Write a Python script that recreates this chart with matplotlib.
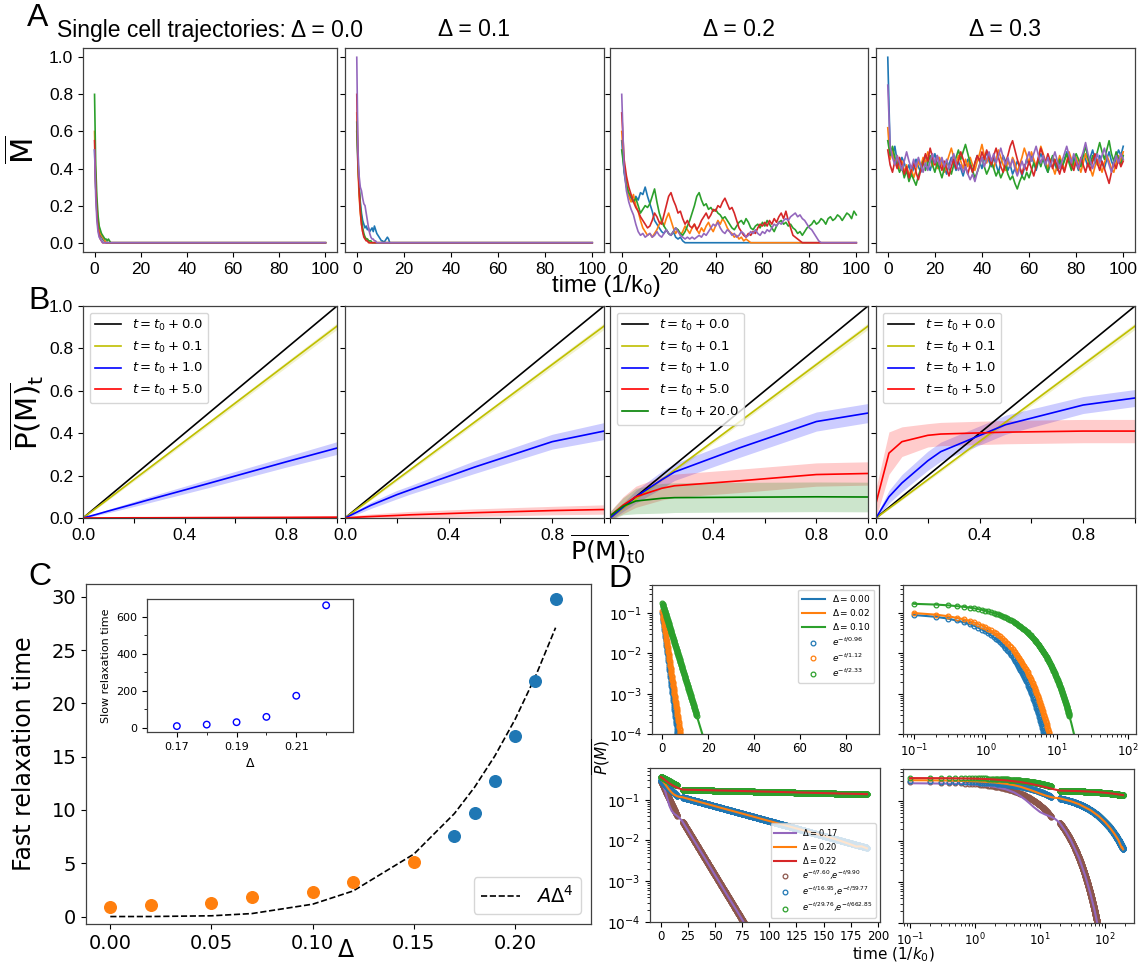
import numpy as np
import matplotlib.pyplot as plt
from matplotlib.ticker import FormatStrFormatter, NullFormatter

W, H = 1142, 964
ARIAL = ['Liberation Sans', 'DejaVu Sans']
DEJAVU = 'DejaVu Sans'

plt.rcParams['font.family'] = ARIAL
plt.rcParams['mathtext.fontset'] = 'dejavusans'
plt.rcParams['axes.edgecolor'] = '0.25'
plt.rcParams['axes.linewidth'] = 0.9

# ---------------- panel A: single cell trajectories ----------------
a_titles = ['Single cell trajectories: \u0394 = 0.0', '\u0394 = 0.1', '\u0394 = 0.2', '\u0394 = 0.3']
a_dt = [0.5, 0.5, 1.0, 1.0]
traj_colors = ['C0', 'C1', 'C2', 'C3', 'C4']

a1_traj = [
    [0.50, 0.30, 0.17, 0.10, 0.06, 0.04, 0.03, 0.02, 0.01, 0.01, 0.0],
    [0.60, 0.33, 0.20, 0.12, 0.08, 0.05, 0.04, 0.03, 0.02, 0.01, 0.0],
    [0.80, 0.42, 0.25, 0.15, 0.09, 0.07, 0.05, 0.04, 0.03, 0.02, 0.02, 0.01, 0.02, 0.01, 0.0],
    [0.55, 0.30, 0.16, 0.08, 0.04, 0.02, 0.01, 0.0],
    [0.50, 0.25, 0.12, 0.06, 0.03, 0.02, 0.01, 0.0],
]
a2_traj = [
    [0.60, 0.42, 0.30, 0.22, 0.16, 0.12, 0.10, 0.08, 0.09, 0.07, 0.08, 0.06, 0.07, 0.08, 0.06,
     0.09, 0.07, 0.05, 0.04, 0.03, 0.02, 0.01, 0.01, 0.0, 0.01, 0.02, 0.03, 0.02, 0.0],
    [0.70, 0.40, 0.25, 0.16, 0.10, 0.06, 0.04, 0.03, 0.02, 0.02, 0.01, 0.0],
    [0.65, 0.45, 0.30, 0.20, 0.13, 0.08, 0.05, 0.03, 0.02, 0.02, 0.01, 0.01, 0.01, 0.0],
    [0.80, 0.45, 0.28, 0.17, 0.10, 0.06, 0.03, 0.02, 0.01, 0.01, 0.0],
    [1.00, 0.50, 0.36, 0.30, 0.28, 0.24, 0.21, 0.20, 0.16, 0.12, 0.08, 0.05, 0.03, 0.02, 0.02,
     0.01, 0.01, 0.0],
]
a3_traj = [
    [0.55, 0.38, 0.30, 0.26, 0.24, 0.22, 0.25, 0.23, 0.27, 0.26, 0.30, 0.25, 0.21, 0.17, 0.12,
     0.10, 0.08, 0.06, 0.05, 0.07, 0.05, 0.04, 0.06, 0.03, 0.02, 0.03, 0.01, 0.0],
    [0.60, 0.42, 0.33, 0.25, 0.22, 0.26, 0.20, 0.17, 0.12, 0.08, 0.06, 0.04, 0.05, 0.03, 0.05,
     0.07, 0.10, 0.12, 0.09, 0.13, 0.16, 0.12, 0.08, 0.05, 0.07, 0.04, 0.06, 0.09, 0.07, 0.05,
     0.08, 0.10, 0.07, 0.05, 0.08, 0.06, 0.09, 0.11, 0.08, 0.06, 0.09, 0.12, 0.10, 0.13, 0.11,
     0.08, 0.06, 0.05, 0.03, 0.04, 0.02, 0.03, 0.01, 0.02, 0.01, 0.0],
    [0.50, 0.40, 0.31, 0.27, 0.25, 0.22, 0.24, 0.20, 0.16, 0.18, 0.20, 0.19, 0.21, 0.25, 0.29,
     0.22, 0.16, 0.12, 0.09, 0.07, 0.05, 0.04, 0.06, 0.08, 0.07, 0.05, 0.04, 0.06, 0.09, 0.12,
     0.16, 0.20, 0.25, 0.27, 0.23, 0.20, 0.21, 0.18, 0.19, 0.17, 0.18, 0.16, 0.15, 0.13, 0.14,
     0.12, 0.10, 0.08, 0.07, 0.09, 0.11, 0.12, 0.10, 0.13, 0.11, 0.08, 0.07, 0.09, 0.10, 0.08,
     0.11, 0.09, 0.12, 0.10, 0.08, 0.06, 0.09, 0.11, 0.12, 0.10, 0.11, 0.09, 0.10, 0.08, 0.07,
     0.05, 0.06, 0.04, 0.06, 0.08, 0.09, 0.10, 0.12, 0.10, 0.11, 0.13, 0.12, 0.10, 0.13, 0.14,
     0.12, 0.13, 0.15, 0.14, 0.12, 0.14, 0.16, 0.15, 0.13, 0.17, 0.15],
    [0.70, 0.45, 0.36, 0.30, 0.26, 0.22, 0.19, 0.17, 0.14, 0.12, 0.10, 0.08, 0.09, 0.12, 0.16,
     0.14, 0.11, 0.10, 0.15, 0.20, 0.25, 0.27, 0.23, 0.20, 0.16, 0.17, 0.13, 0.10, 0.12, 0.09,
     0.08, 0.10, 0.07, 0.09, 0.12, 0.14, 0.16, 0.13, 0.15, 0.18, 0.17, 0.20, 0.19, 0.22, 0.24,
     0.21, 0.18, 0.19, 0.16, 0.12, 0.08, 0.06, 0.04, 0.03, 0.05, 0.04, 0.06, 0.05, 0.08, 0.10,
     0.09, 0.11, 0.09, 0.12, 0.10, 0.13, 0.11, 0.14, 0.16, 0.13, 0.17, 0.12, 0.08, 0.04, 0.03,
     0.02, 0.01, 0.0],
    [0.80, 0.40, 0.28, 0.22, 0.18, 0.15, 0.10, 0.06, 0.04, 0.05, 0.03, 0.04, 0.05, 0.03, 0.04,
     0.06, 0.04, 0.03, 0.05, 0.07, 0.05, 0.04, 0.06, 0.08, 0.06, 0.04, 0.03, 0.02, 0.03, 0.02,
     0.03, 0.02, 0.03, 0.04, 0.03, 0.05, 0.04, 0.06, 0.08, 0.10, 0.09, 0.11, 0.08, 0.06, 0.05,
     0.07, 0.06, 0.04, 0.05, 0.03, 0.04, 0.06, 0.05, 0.03, 0.04, 0.06, 0.05, 0.07, 0.05, 0.04,
     0.06, 0.05, 0.07, 0.06, 0.08, 0.10, 0.09, 0.11, 0.10, 0.12, 0.13, 0.12, 0.14, 0.15, 0.16,
     0.14, 0.15, 0.13, 0.12, 0.10, 0.08, 0.07, 0.05, 0.03, 0.01, 0.0],
]
a4_traj = [
    [1.00, 0.50, 0.47, 0.52, 0.44, 0.41, 0.46, 0.43, 0.39, 0.42,
     0.37, 0.40, 0.45, 0.41, 0.38, 0.43, 0.47, 0.42, 0.39, 0.44,
     0.48, 0.43, 0.40, 0.45, 0.41, 0.37, 0.42, 0.46, 0.43, 0.39,
     0.44, 0.40, 0.36, 0.41, 0.45, 0.42, 0.38, 0.43, 0.47, 0.44,
     0.40, 0.45, 0.49, 0.44, 0.41, 0.46, 0.42, 0.38, 0.43, 0.47,
     0.44, 0.39, 0.42, 0.37, 0.40, 0.44, 0.41, 0.36, 0.40, 0.45,
     0.42, 0.47, 0.43, 0.39, 0.44, 0.48, 0.45, 0.41, 0.38, 0.43,
     0.46, 0.42, 0.39, 0.44, 0.40, 0.45, 0.49, 0.44, 0.41, 0.46,
     0.43, 0.39, 0.44, 0.48, 0.45, 0.41, 0.46, 0.50, 0.45, 0.42,
     0.47, 0.43, 0.40, 0.45, 0.49, 0.44, 0.41, 0.46, 0.50, 0.47, 0.52],
    [0.62, 0.45, 0.50, 0.43, 0.47, 0.40, 0.44, 0.38, 0.42, 0.36,
     0.40, 0.35, 0.39, 0.44, 0.41, 0.46, 0.43, 0.49, 0.45, 0.41,
     0.44, 0.40, 0.46, 0.42, 0.38, 0.43, 0.47, 0.51, 0.46, 0.43,
     0.47, 0.44, 0.40, 0.45, 0.41, 0.46, 0.42, 0.39, 0.44, 0.48,
     0.53, 0.47, 0.43, 0.48, 0.44, 0.40, 0.45, 0.50, 0.46, 0.42,
     0.39, 0.44, 0.41, 0.46, 0.43, 0.38, 0.42, 0.46, 0.51, 0.47,
     0.43, 0.49, 0.45, 0.41, 0.46, 0.52, 0.48, 0.44, 0.40, 0.45,
     0.41, 0.37, 0.42, 0.47, 0.43, 0.39, 0.44, 0.49, 0.45, 0.41,
     0.46, 0.42, 0.38, 0.43, 0.48, 0.44, 0.40, 0.36, 0.41, 0.45,
     0.42, 0.38, 0.43, 0.47, 0.44, 0.40, 0.38, 0.43, 0.47, 0.44, 0.49],
    [0.55, 0.47, 0.52, 0.46, 0.42, 0.38, 0.41, 0.35, 0.39, 0.33,
     0.37, 0.34, 0.31, 0.36, 0.40, 0.44, 0.39, 0.43, 0.47, 0.42,
     0.38, 0.43, 0.39, 0.35, 0.40, 0.44, 0.41, 0.37, 0.42, 0.46,
     0.50, 0.45, 0.49, 0.53, 0.48, 0.43, 0.39, 0.35, 0.38, 0.42,
     0.46, 0.41, 0.37, 0.40, 0.44, 0.40, 0.36, 0.39, 0.35, 0.38,
     0.42, 0.37, 0.34, 0.36, 0.32, 0.29, 0.33, 0.36, 0.34, 0.38,
     0.35, 0.39, 0.43, 0.40, 0.45, 0.41, 0.46, 0.42, 0.38, 0.43,
     0.47, 0.43, 0.40, 0.45, 0.41, 0.44, 0.48, 0.43, 0.39, 0.44,
     0.48, 0.45, 0.41, 0.47, 0.52, 0.46, 0.42, 0.47, 0.43, 0.49,
     0.54, 0.49, 0.45, 0.50, 0.55, 0.48, 0.44, 0.49, 0.45, 0.42, 0.47],
    [0.50, 0.42, 0.38, 0.44, 0.40, 0.46, 0.42, 0.37, 0.41, 0.35,
     0.39, 0.43, 0.38, 0.34, 0.39, 0.43, 0.48, 0.44, 0.51, 0.46,
     0.42, 0.47, 0.43, 0.39, 0.44, 0.40, 0.36, 0.41, 0.45, 0.40,
     0.44, 0.49, 0.45, 0.41, 0.37, 0.42, 0.38, 0.43, 0.47, 0.44,
     0.49, 0.45, 0.50, 0.46, 0.42, 0.47, 0.51, 0.46, 0.41, 0.38,
     0.43, 0.47, 0.52, 0.55, 0.50, 0.45, 0.41, 0.37, 0.42, 0.39,
     0.44, 0.40, 0.36, 0.41, 0.46, 0.51, 0.47, 0.43, 0.48, 0.44,
     0.40, 0.45, 0.41, 0.37, 0.42, 0.38, 0.43, 0.47, 0.42, 0.39,
     0.44, 0.40, 0.46, 0.42, 0.38, 0.43, 0.39, 0.44, 0.48, 0.43,
     0.39, 0.44, 0.40, 0.36, 0.32, 0.38, 0.43, 0.40, 0.45, 0.41, 0.44],
    [0.85, 0.52, 0.46, 0.42, 0.47, 0.43, 0.39, 0.44, 0.49, 0.44,
     0.40, 0.45, 0.41, 0.46, 0.42, 0.38, 0.43, 0.39, 0.44, 0.48,
     0.43, 0.47, 0.42, 0.46, 0.41, 0.45, 0.40, 0.44, 0.48, 0.43,
     0.39, 0.42, 0.38, 0.41, 0.37, 0.34, 0.37, 0.33, 0.38, 0.42,
     0.46, 0.41, 0.45, 0.49, 0.44, 0.48, 0.43, 0.47, 0.51, 0.46,
     0.42, 0.46, 0.41, 0.45, 0.40, 0.36, 0.40, 0.44, 0.40, 0.45,
     0.49, 0.44, 0.48, 0.52, 0.47, 0.43, 0.47, 0.42, 0.46, 0.41,
     0.45, 0.49, 0.44, 0.40, 0.44, 0.48, 0.52, 0.47, 0.43, 0.48,
     0.44, 0.40, 0.45, 0.49, 0.54, 0.48, 0.44, 0.40, 0.44, 0.48,
     0.43, 0.47, 0.51, 0.46, 0.42, 0.38, 0.43, 0.47, 0.43, 0.48, 0.45],
]
a_traj = [a1_traj, a2_traj, a3_traj, a4_traj]

# ---------------- panel B: P(M)_t versus P(M)_t0 ----------------
b_x = [0, 0.05, 0.1, 0.2, 0.25, 0.5, 0.8, 1.0]
b_black = [0, 0.05, 0.1, 0.2, 0.25, 0.5, 0.8, 1.0]
b_yellow = [0, 0.045, 0.09, 0.181, 0.226, 0.452, 0.724, 0.905]
b_yellow_err = [0.002, 0.004, 0.005, 0.007, 0.008, 0.010, 0.013, 0.015]
b_labels = ['$t = t_0 + 0.0$', '$t = t_0 + 0.1$', '$t = t_0 + 1.0$',
            '$t = t_0 + 5.0$', '$t = t_0 + 20.0$']

b_blue = [
    [0, 0.016, 0.033, 0.066, 0.083, 0.165, 0.265, 0.33],
    [0, 0.03, 0.06, 0.11, 0.132, 0.24, 0.36, 0.41],
    [0, 0.05, 0.10, 0.18, 0.217, 0.33, 0.455, 0.495],
    [0, 0.10, 0.165, 0.27, 0.313, 0.44, 0.533, 0.566],
]
b_blue_err = [
    [0.003, 0.005, 0.008, 0.012, 0.014, 0.020, 0.025, 0.030],
    [0.005, 0.010, 0.015, 0.020, 0.020, 0.030, 0.035, 0.040],
    [0.010, 0.020, 0.030, 0.040, 0.040, 0.045, 0.045, 0.045],
    [0.010, 0.030, 0.040, 0.045, 0.045, 0.045, 0.040, 0.040],
]
b_red = [
    [0, 0.0003, 0.0005, 0.001, 0.001, 0.002, 0.003, 0.004],
    [0, 0.004, 0.007, 0.012, 0.015, 0.025, 0.035, 0.040],
    [0.01, 0.06, 0.10, 0.14, 0.152, 0.175, 0.205, 0.21],
    [0.07, 0.306, 0.36, 0.39, 0.396, 0.405, 0.41, 0.41],
]
b_red_err = [
    [0.001, 0.001, 0.002, 0.002, 0.002, 0.003, 0.004, 0.004],
    [0.005, 0.010, 0.012, 0.015, 0.016, 0.018, 0.020, 0.022],
    [0.020, 0.040, 0.050, 0.055, 0.055, 0.055, 0.055, 0.055],
    [0.070, 0.100, 0.070, 0.055, 0.055, 0.055, 0.055, 0.055],
]
b_green = [0.01, 0.055, 0.08, 0.093, 0.096, 0.098, 0.10, 0.099]
b_green_err = [0.02, 0.04, 0.06, 0.07, 0.07, 0.07, 0.07, 0.07]

# ---------------- panel C: relaxation times ----------------
c_delta_fast = [0.00, 0.02, 0.05, 0.07, 0.10, 0.12, 0.15]
c_time_fast = [0.94, 1.12, 1.28, 1.84, 2.33, 3.28, 5.09]
c_delta_two = [0.17, 0.18, 0.19, 0.20, 0.21, 0.22]
c_time_two = [7.60, 9.72, 12.75, 16.95, 22.06, 29.76]
c_fit_delta = [0.00, 0.02, 0.05, 0.07, 0.10, 0.12, 0.15, 0.17, 0.18, 0.19, 0.20, 0.21, 0.22]
c_fit_time = [0.0, 0.002, 0.07, 0.28, 1.16, 2.40, 5.86, 9.66, 12.14, 15.07, 18.5, 22.5, 27.1]
c_slow_time = [9.90, 18.0, 31.0, 59.77, 174.0, 662.85]

# ---------------- panel D: P(M) decay ----------------
d_top_labels = ['$\\Delta = 0.00$', '$\\Delta = 0.02$', '$\\Delta = 0.10$']
d_top_colors = ['C0', 'C1', 'C2']
d_top_t = [0, 0.1, 0.2, 0.3, 0.5, 0.7, 1, 1.5, 2, 3, 4, 5, 6, 7, 8, 9, 10, 12, 14, 16, 18]
d_top_vals = [
    [0.100, 0.0901, 0.0812, 0.0732, 0.0594, 0.0482, 0.0353, 0.0210, 0.0125, 0.0044,
     0.00155, 5.5e-4, 1.9e-4, 6.8e-5, 2.4e-5, 8.5e-6, 3.0e-6, 3.7e-7, 4.6e-8, 5.7e-9, 7.0e-10],
    [0.110, 0.1006, 0.0919, 0.0840, 0.0704, 0.0588, 0.0450, 0.0288, 0.0184, 0.00755,
     0.00309, 0.00127, 5.2e-4, 2.1e-4, 8.7e-5, 3.6e-5, 1.5e-5, 2.4e-6, 4.0e-7, 7.0e-8, 1.0e-8],
    [0.178, 0.1705, 0.1634, 0.1565, 0.1436, 0.1318, 0.1160, 0.0932, 0.0755, 0.0491,
     0.0320, 0.0208, 0.0136, 0.0088, 0.0057, 0.0037, 0.0024, 0.00103, 4.4e-4, 1.86e-4, 7.9e-5],
]
d_top_amp = [0.100, 0.110, 0.178]
d_top_tau = [0.96, 1.12, 2.33]

d_bot_labels = ['$\\Delta = 0.17$', '$\\Delta = 0.20$', '$\\Delta = 0.22$']
d_bot_line_colors = ['C4', 'C1', 'C3']
d_bot_fit_colors = ['C5', 'C0', 'C2']
d_bot_t = [
    [0, 0.1, 0.2, 0.3, 0.5, 0.7, 1, 1.5, 2, 3, 4, 5, 6, 7, 8, 10, 12, 14, 15, 17,
     20, 25, 30, 40, 50, 60, 70, 80, 90],
    [0, 0.1, 0.2, 0.3, 0.5, 0.7, 1, 1.5, 2, 3, 4, 5, 7, 10, 12, 15, 17, 20, 30, 40,
     60, 80, 100, 120, 140, 160, 175, 180, 185, 190],
    [0, 0.1, 0.2, 0.3, 0.5, 0.7, 1, 1.5, 2, 3, 4, 5, 7, 10, 12, 15, 17, 20, 40, 60,
     80, 100, 130, 160, 190],
]
d_bot_vals = [
    [0.270, 0.268, 0.266, 0.264, 0.260, 0.256, 0.248, 0.235, 0.220, 0.190, 0.160, 0.130,
     0.105, 0.085, 0.070, 0.053, 0.046, 0.042, 0.040, 0.036, 0.0290, 0.0175, 0.0106,
     0.0039, 0.0014, 5.1e-4, 1.9e-4, 6.8e-5, 2.5e-5],
    [0.320, 0.318, 0.316, 0.314, 0.310, 0.306, 0.300, 0.290, 0.280, 0.260, 0.240, 0.220,
     0.185, 0.150, 0.135, 0.122, 0.118, 0.115, 0.097, 0.082, 0.0586, 0.0420, 0.0300,
     0.0215, 0.0154, 0.0110, 0.0080, 0.0071, 0.0072, 0.0064],
    [0.360, 0.359, 0.358, 0.357, 0.355, 0.352, 0.348, 0.340, 0.332, 0.316, 0.300, 0.287,
     0.262, 0.232, 0.216, 0.198, 0.188, 0.177, 0.172, 0.167, 0.162, 0.157, 0.150, 0.143,
     0.137],
]
d_fast_amp = [0.29, 0.30, 0.37]
d_fast_tau = [7.60, 16.95, 29.76]
d_slow_amp = [0.219, 0.160, 0.181]
d_slow_tau = [9.90, 59.77, 662.85]
d_fit_labels = ['$e^{-t/7.60}$,$e^{-t/9.90}$', '$e^{-t/16.95}$,$e^{-t/59.77}$',
                '$e^{-t/29.76}$,$e^{-t/662.85}$']


def px_axes(fig, left, top, right, bottom):
    return fig.add_axes([left / W, 1 - bottom / H, (right - left) / W, (bottom - top) / H])


def px_text(fig, x, y, s, **kw):
    return fig.text(x / W, 1 - y / H, s, **kw)


fig = plt.figure(figsize=(W / 100, H / 100), dpi=100)

# ----- A -----
a_left = [83, 345, 610, 876]
a_right = [337, 604, 868, 1135]
for i in range(4):
    ax = px_axes(fig, a_left[i], 48, a_right[i], 252)
    for vals, c in zip(a_traj[i], traj_colors):
        t = list(np.arange(len(vals)) * a_dt[i])
        v = list(vals)
        if v[-1] == 0 and t[-1] < 100:
            t.append(100)
            v.append(0.0)
        ax.plot(t, v, color=c, lw=1.2)
    ax.set_xlim(-5, 105)
    ax.set_ylim(-0.05, 1.05)
    ax.set_xticks(range(0, 101, 20))
    ax.set_yticks([0, 0.2, 0.4, 0.6, 0.8, 1.0])
    ax.tick_params(labelsize=12.5)
    if i > 0:
        ax.set_yticklabels([])
    px_text(fig, (a_left[i] + a_right[i]) / 2, 30, a_titles[i], fontsize=16.5,
            ha='center', va='center')
px_text(fig, 25, 150, r'$\overline{\mathrm{M}}$', fontsize=22, rotation=90,
        ha='center', va='center')
px_text(fig, 606, 286, 'time (1/k\u2080)', fontsize=17, ha='center', va='center')

# ----- B -----
for i in range(4):
    ax = px_axes(fig, a_left[i], 306, a_right[i], 518)
    series = [(b_black, None, 'k', b_labels[0]),
              (b_yellow, b_yellow_err, 'y', b_labels[1]),
              (b_blue[i], b_blue_err[i], 'b', b_labels[2]),
              (b_red[i], b_red_err[i], 'r', b_labels[3])]
    if i == 2:
        series.append((b_green, b_green_err, 'g', b_labels[4]))
    for y, err, c, lab in series:
        ax.plot(b_x, y, color=c, lw=1.2, label=lab)
        if err is not None:
            lo = np.array(y) - np.array(err)
            hi = np.array(y) + np.array(err)
            ax.fill_between(b_x, lo, hi, color=c, alpha=0.2, lw=0)
    ax.set_xlim(0, 1)
    ax.set_ylim(0, 1)
    ax.set_xticks([0, 0.2, 0.4, 0.6, 0.8, 1.0])
    xl = ['0.0', '', '0.4', '', '0.8', '']
    if i == 2:
        xl[0] = ''
    ax.set_xticklabels(xl)
    ax.set_yticks([0, 0.2, 0.4, 0.6, 0.8, 1.0])
    ax.tick_params(labelsize=12.5)
    if i > 0:
        ax.set_yticklabels([])
    if i != 1:
        ax.legend(loc='upper left', fontsize=9.5, framealpha=0.8)
px_text(fig, 27, 412, r'$\overline{\mathrm{P(M)}}_\mathrm{t}$', fontsize=21, rotation=90,
        ha='center', va='center')
px_text(fig, 608, 549, r'$\overline{\mathrm{P(M)}}_\mathrm{t0}$', fontsize=18,
        ha='center', va='center')

# ----- C -----
ax = px_axes(fig, 86, 584, 591, 924)
ax.plot(c_fit_delta, c_fit_time, 'k--', lw=1.2, label=r'$A\Delta^4$')
ax.scatter(c_delta_fast, c_time_fast, s=70, color='C1', zorder=3)
ax.scatter(c_delta_two, c_time_two, s=70, color='C0', zorder=3)
ax.set_xlim(-0.012, 0.2375)
ax.set_ylim(-0.7, 31.2)
ax.set_xticks([0, 0.05, 0.10, 0.15, 0.20])
ax.xaxis.set_major_formatter(FormatStrFormatter('%.2f'))
ax.set_yticks(range(0, 31, 5))
ax.tick_params(labelsize=14, labelfontfamily=DEJAVU)
ax.legend(loc='lower right', prop={'family': DEJAVU, 'size': 14})
px_text(fig, 24, 754, 'Fast relaxation time', fontsize=17, family=DEJAVU, rotation=90,
        ha='center', va='center')
px_text(fig, 346, 950, '\u0394', fontsize=17, family=DEJAVU, ha='center', va='center')

ins = px_axes(fig, 147, 599, 353, 732)
ins.scatter(c_delta_two, c_slow_time, s=22, facecolors='none', edgecolors='b', lw=1)
ins.set_xlim(0.160, 0.229)
ins.set_ylim(-22, 697)
ins.set_xticks([0.17, 0.19, 0.21])
ins.set_xticks([0.18, 0.20, 0.22], minor=True)
ins.set_yticks([0, 200, 400, 600])
ins.set_yticks([100, 300, 500], minor=True)
ins.tick_params(labelsize=8, labelfontfamily=DEJAVU)
ins.set_ylabel('Slow relaxation time', fontsize=8, family=DEJAVU)
ins.set_xlabel('\u0394', fontsize=9, family=DEJAVU)

# ----- D -----
d1 = px_axes(fig, 652, 585, 879, 734)
d2 = px_axes(fig, 903, 585, 1136, 734)
d3 = px_axes(fig, 650, 768, 880, 922)
d4 = px_axes(fig, 903, 769, 1134, 923)

t_fast = np.arange(0, 15.01, 0.1)
t_slow = np.arange(20, 190.01, 0.1)

top_handles = []
top_fit_handles = []
for ax in (d1, d2):
    for k in range(3):
        t_fit = t_fast if ax is d1 else t_fast[1:]
        fit = d_top_amp[k] * np.exp(-t_fit / d_top_tau[k])
        h2, = ax.plot(t_fit, fit, 'o', ms=3.4, mfc='none', mew=0.9, color=d_top_colors[k],
                      label='$e^{-t/%.2f}$' % d_top_tau[k])
        tt = d_top_t if ax is d1 else d_top_t[1:]
        vv = d_top_vals[k] if ax is d1 else d_top_vals[k][1:]
        h1, = ax.plot(tt, vv, color=d_top_colors[k], lw=1.5, label=d_top_labels[k])
        if ax is d1:
            top_handles.append(h1)
            top_fit_handles.append(h2)
d1.legend(top_handles + top_fit_handles, [h.get_label() for h in top_handles + top_fit_handles],
          loc='upper right', prop={'family': DEJAVU, 'size': 6.5},
          labelspacing=0.35, borderpad=0.4, handlelength=2.6)

bot_handles = []
bot_fit_handles = []
for ax in (d3, d4):
    for k in range(3):
        tf = t_fast if ax is d3 else t_fast[1:]
        fast = d_fast_amp[k] * np.exp(-tf / d_fast_tau[k])
        slow = d_slow_amp[k] * np.exp(-t_slow / d_slow_tau[k])
        h2, = ax.plot(tf, fast, 'o', ms=3.4, mfc='none', mew=0.9, color=d_bot_fit_colors[k])
        ax.plot(t_slow, slow, 'o', ms=3.4, mfc='none', mew=0.9, color=d_bot_fit_colors[k])
        tt = d_bot_t[k] if ax is d3 else d_bot_t[k][1:]
        vv = d_bot_vals[k] if ax is d3 else d_bot_vals[k][1:]
        h1, = ax.plot(tt, vv, color=d_bot_line_colors[k], lw=1.5)
        if ax is d3:
            bot_handles.append(h1)
            bot_fit_handles.append(h2)
d3.legend(bot_handles + bot_fit_handles, d_bot_labels + d_fit_labels,
          loc='lower right', prop={'family': DEJAVU, 'size': 6},
          labelspacing=0.35, borderpad=0.4, handlelength=2.6)

for ax in (d1, d2, d3, d4):
    ax.set_yscale('log')
    ax.set_yticks([1e-4, 1e-3, 1e-2, 1e-1])
    ax.tick_params(axis='y', labelsize=10, labelfontfamily=DEJAVU)
    ax.tick_params(axis='x', labelsize=8.5, pad=2.5, labelfontfamily=DEJAVU)
d1.set_ylim(1e-4, 0.5)
d2.set_ylim(1e-4, 0.5)
d3.set_ylim(1e-4, 0.6)
d4.set_ylim(1e-4, 0.6)
d1.set_xlim(-4.5, 94.5)
d1.set_xticks([0, 20, 40, 60, 80])
d3.set_xlim(-10, 202)
d3.set_xticks(range(0, 201, 25))
for ax in (d2, d4):
    ax.set_xscale('log')
    ax.set_xticks([0.1, 1, 10, 100])
    ax.yaxis.set_major_formatter(NullFormatter())
    ax.yaxis.set_minor_formatter(NullFormatter())
d2.set_xlim(0.07, 129)
d4.set_xlim(0.078, 280)
px_text(fig, 602, 757, r'$\overline{P(M)}$', fontsize=11, rotation=90, ha='center', va='center')
px_text(fig, 893, 955, 'time (1/$k_0$)', fontsize=11, family=DEJAVU, ha='center', va='center')

# panel letters
for letter, x, y in [('A', 27, 18), ('B', 28, 301), ('C', 28, 577), ('D', 608, 579)]:
    px_text(fig, x, y, letter, fontsize=23, ha='left', va='center')

fig.savefig('out.png', dpi=100)
